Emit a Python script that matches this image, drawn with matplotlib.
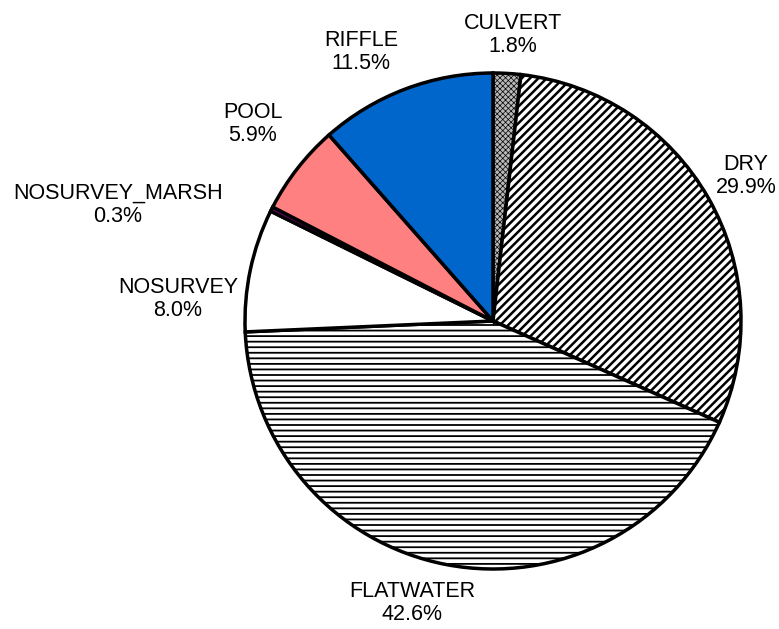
import matplotlib
matplotlib.use("Agg")
import matplotlib.pyplot as plt

# data, clockwise from 12 o'clock
labels = ["CULVERT", "DRY", "FLATWATER", "NOSURVEY", "NOSURVEY_MARSH", "POOL", "RIFFLE"]
shares = [1.8, 29.9, 42.6, 8.0, 0.3, 5.9, 11.5]

# slice styles
face_colors = ["#b8b8b8", "white", "white", "white", "#800080", "#ff8080", "#0066cc"]
hatches = ["xxxxxx", "////", "---", None, None, None, None]
hatch_widths = [0.5, 1.8, 1.3, 1.0, 1.0, 1.0, 1.0]

# label centres, in pie-radius units
label_pos = [(0.08, 1.153), (1.02, 0.585), (-0.327, -1.137), (-1.27, 0.089),
             (-1.512, 0.468), (-0.968, 0.794), (-0.532, 1.085)]

plt.rcParams['font.family'] = ['Liberation Sans', 'DejaVu Sans']

W, H = 779, 629
cx, cy, r = 493, 321, 248

fig = plt.figure(figsize=(W / 100, H / 100), dpi=100)
ax = fig.add_axes([0, 0, 1, 1])

wedges, _ = ax.pie(shares, startangle=90, counterclock=False, radius=1,
                   colors=face_colors,
                   wedgeprops=dict(edgecolor="black", linewidth=2.5))

for w, h, hw in zip(wedges, hatches, hatch_widths):
    if h:
        w.set_hatch(h)
        if hasattr(w, "set_hatch_linewidth"):
            w.set_hatch_linewidth(hw)

for name, val, (x, y) in zip(labels, shares, label_pos):
    ax.text(x, y, f"{name}\n{val:.1f}%", ha="center", va="center",
            fontsize=15.5, linespacing=1.15)

ax.set_xlim(-cx / r, (W - cx) / r)
ax.set_ylim(-(H - cy) / r, cy / r)
ax.set_aspect("auto")
ax.axis("off")

fig.savefig("out.png", dpi=100)
